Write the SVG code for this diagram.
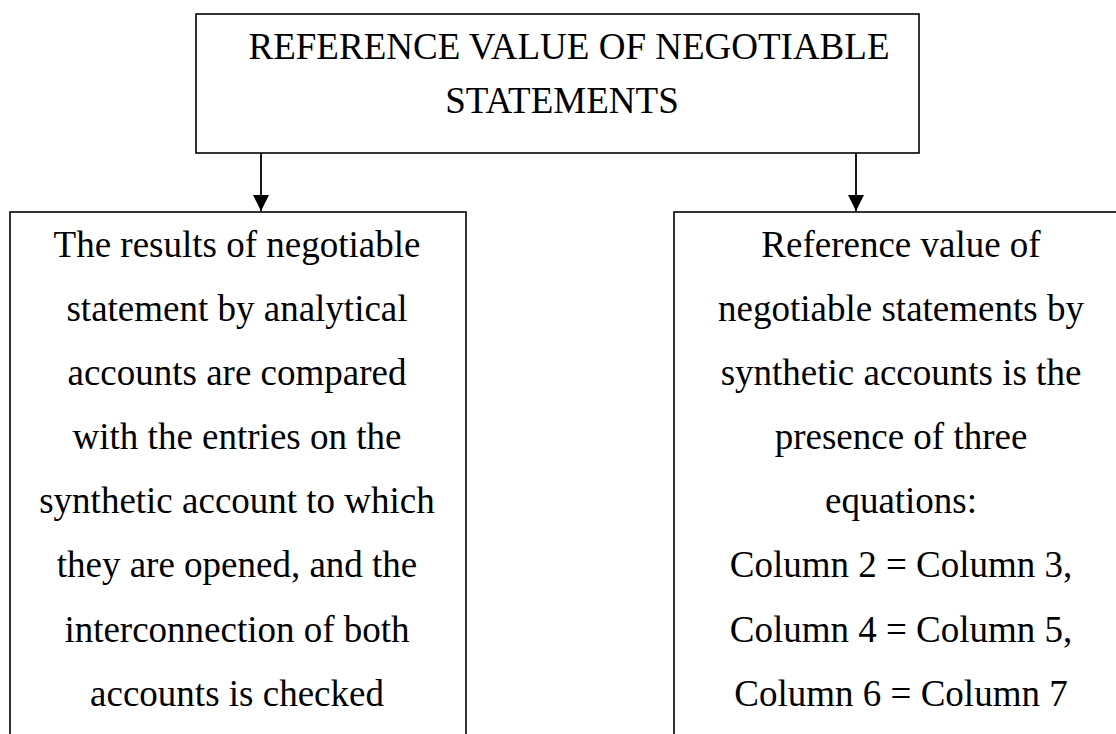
<svg xmlns="http://www.w3.org/2000/svg" width="1116" height="734" viewBox="0 0 1116 734">
  <style>
    .box { fill: #ffffff; stroke: #000000; stroke-width: 1.6; }
    .title { font-family: "Liberation Serif", "Times New Roman", serif; font-size: 37px; fill: #000000; text-anchor: middle; }
    .body { font-family: "Liberation Serif", "Times New Roman", serif; font-size: 37px; fill: #000000; text-anchor: middle; }
    .link { stroke: #000000; stroke-width: 1.8; fill: none; }
  </style>
  <defs>
    <marker id="arrow" viewBox="0 0 16 16" refX="16" refY="8" markerWidth="16" markerHeight="16" markerUnits="userSpaceOnUse" orient="auto">
      <path d="M0,0 L16,8 L0,16 Z" fill="#000000"/>
    </marker>
  </defs>
  <rect width="1116" height="734" fill="#ffffff"/>

  <g id="connectors">
    <line class="link" x1="261" y1="153" x2="261" y2="211" marker-end="url(#arrow)"/>
    <line class="link" x1="856" y1="153" x2="856" y2="211" marker-end="url(#arrow)"/>
  </g>

  <g id="node-root">
    <rect class="box" x="196" y="14" width="723" height="139"/>
    <text class="title" x="569" y="59">REFERENCE VALUE OF NEGOTIABLE</text>
    <text class="title" x="562" y="113">STATEMENTS</text>
  </g>

  <g id="node-analytical">
    <rect class="box" x="10" y="212" width="456" height="540"/>
    <text class="body" x="237" y="257">The results of negotiable</text>
    <text class="body" x="237" y="321">statement by analytical</text>
    <text class="body" x="237" y="385">accounts are compared</text>
    <text class="body" x="237" y="449">with the entries on the</text>
    <text class="body" x="237" y="513">synthetic account to which</text>
    <text class="body" x="237" y="577">they are opened, and the</text>
    <text class="body" x="237" y="642">interconnection of both</text>
    <text class="body" x="237" y="706">accounts is checked</text>
  </g>

  <g id="node-synthetic">
    <rect class="box" x="674" y="212" width="460" height="540"/>
    <text class="body" x="901" y="257">Reference value of</text>
    <text class="body" x="901" y="321">negotiable statements by</text>
    <text class="body" x="901" y="385">synthetic accounts is the</text>
    <text class="body" x="901" y="449">presence of three</text>
    <text class="body" x="901" y="513">equations:</text>
    <text class="body" x="901" y="577">Column 2 = Column 3,</text>
    <text class="body" x="901" y="642">Column 4 = Column 5,</text>
    <text class="body" x="901" y="706">Column 6 = Column 7</text>
  </g>
</svg>
